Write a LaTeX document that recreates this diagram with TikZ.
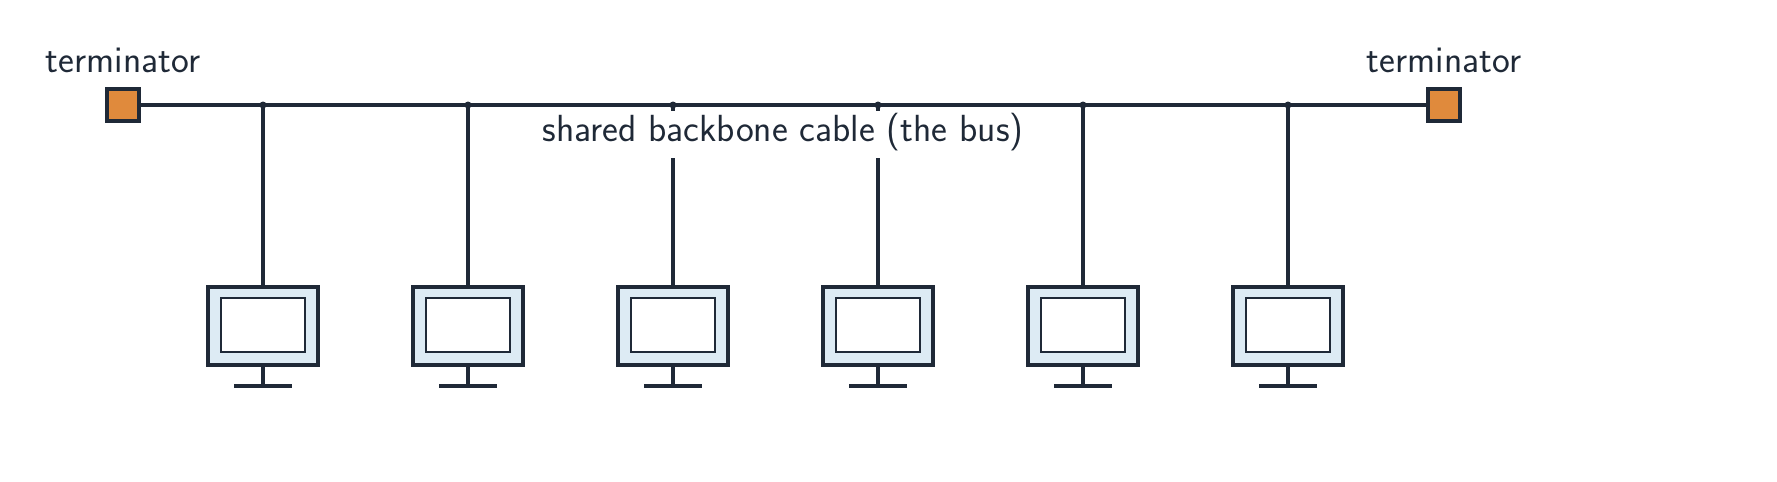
\documentclass[tikz,border=0pt]{standalone}
\begin{document}
\begin{tikzpicture}[x=0.02cm,y=-0.02cm]
\definecolor{inkc}{HTML}{1F2937}
\definecolor{termc}{HTML}{E08A3C}
\definecolor{scr}{HTML}{DDEBF4}
\tikzset{ln/.style={draw=inkc, line width=2pt},
  term/.style={draw=inkc, line width=2pt, fill=termc, minimum size=0.64cm, inner sep=0},
  lbl/.style={font=\sffamily\fontsize{21.5}{25}\selectfont, text=inkc}}
\useasboundingbox (0,0) rectangle (1777,481);
\node[term] (tl) at (123,105) {};
\node[term] (tr) at (1444,105) {};
\node[lbl] (tlt) at (123,60) {terminator};
\node[lbl] (trt) at (1444,60) {terminator};
\draw[ln] (tl.east) -- (tr.west);
\node[lbl] (bus) at (783,132) {shared backbone cable (the bus)};
\foreach \i/\x in {1/263,2/468,3/673,4/878,5/1083,6/1288}{
  \coordinate (d\i) at (\x,105);
  \fill[inkc] (d\i) circle (3.5);
  \draw[ln, fill=scr] (\x-55,287) rectangle (\x+55,365);
  \draw[draw=inkc, line width=1.4pt, fill=white] (\x-42,298) rectangle (\x+42,352);
  \coordinate (m\i) at (\x,287);
  \coordinate (s\i) at (\x,365);
  \coordinate (b\i) at (\x,386);
  \draw[ln] (s\i) -- (b\i);
  \draw[ln] (\x-29,386) -- (\x+29,386);
}
\foreach \i in {1,2,5,6}{\draw[ln] (d\i) -- (m\i);}
\foreach \i/\x in {3/673,4/878}{\coordinate (g\i) at (\x,158); \draw[ln] (d\i) -- ++(0,6); \draw[ln] (g\i) -- (m\i);}
\end{tikzpicture}
\end{document}
